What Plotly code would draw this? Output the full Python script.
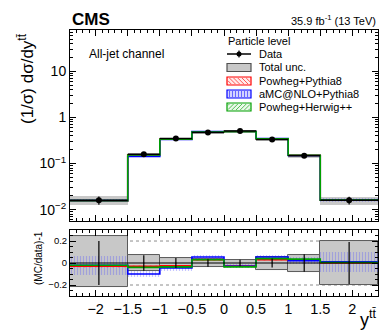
import plotly.graph_objects as go

# bins in y(ttbar)
edges = [-2.4, -1.5, -1.0, -0.5, 0.0, 0.5, 1.0, 1.5, 2.4]

# normalised cross section, particle level, all-jet channel
data = [0.0160, 0.159, 0.348, 0.471, 0.511, 0.332, 0.147, 0.0160]
stat_rel = [0.20, 0.07, 0.045, 0.035, 0.03, 0.04, 0.08, 0.19]
tot_up = [0.25, 0.075, 0.045, 0.04, 0.03, 0.055, 0.07, 0.20]
tot_dn = [0.215, 0.07, 0.045, 0.04, 0.03, 0.06, 0.08, 0.20]

# predictions (top panel)
pow_py = [0.0155, 0.154, 0.339, 0.485, 0.496, 0.342, 0.151, 0.0160]
amc_py = [0.0157, 0.143, 0.332, 0.497, 0.496, 0.350, 0.150, 0.0162]
pow_hw = [0.0157, 0.153, 0.336, 0.485, 0.493, 0.345, 0.152, 0.0161]

# (MC/data)-1 (bottom panel)
r_pow_py = [-0.03, -0.03, -0.025, 0.03, -0.03, 0.03, 0.025, 0.0]
r_amc_py = [-0.02, -0.10, -0.045, 0.055, -0.03, 0.055, 0.02, 0.01]
r_pow_hw = [-0.02, -0.04, -0.035, 0.03, -0.035, 0.04, 0.035, 0.005]

# theory uncertainty (relative)
u_pow_py = [0.012, 0.01, 0.01, 0.01, 0.01, 0.01, 0.01, 0.012]
u_amc_py = [0.085, 0.03, 0.025, 0.02, 0.02, 0.02, 0.03, 0.09]
u_pow_hw = [0.012, 0.01, 0.01, 0.01, 0.01, 0.01, 0.01, 0.012]

x_ticks = [-2, -1.5, -1, -0.5, 0, 0.5, 1, 1.5, 2]

RED = "rgb(255,0,0)"
BLUE = "rgb(0,0,255)"
GREEN = "rgb(0,160,0)"
GREY = "rgb(200,200,200)"
FONT = "Liberation Sans, Arial, sans-serif"

centers = [(a + b) / 2 for a, b in zip(edges[:-1], edges[1:])]
widths = [b - a for a, b in zip(edges[:-1], edges[1:])]
halfw = [w / 2 for w in widths]

W, H = 390, 331
ML, MR, MT, MB = 62, 20, 22, 43
PW, PH = W - ML - MR, H - MT - MB


def px(xp):
    return (xp - ML) / PW


def py(yp):
    return (H - MB - yp) / PH


fig = go.Figure()


def step(vals):
    return list(edges), list(vals) + [vals[-1]]


def band(vals, rel_up, rel_dn, axis, ratio, **kw):
    if ratio:
        lo = [v - d for v, d in zip(vals, rel_dn)]
        hi = [v + u for v, u in zip(vals, rel_up)]
    else:
        lo = [v * (1 - d) for v, d in zip(vals, rel_dn)]
        hi = [v * (1 + u) for v, u in zip(vals, rel_up)]
    fig.add_trace(go.Bar(x=centers, y=[h - l for h, l in zip(hi, lo)], base=lo, width=widths,
                         xaxis="x" if axis == 1 else "x2", yaxis="y" if axis == 1 else "y2",
                         showlegend=False, hoverinfo="skip", **kw))


hatch = {
    "red": dict(marker=dict(color="rgba(0,0,0,0)", line_width=0,
                            pattern=dict(shape="\\", fgcolor="rgba(255,0,0,0.5)", size=4, solidity=0.25))),
    "blue": dict(marker=dict(color="rgba(0,0,0,0)", line_width=0,
                             pattern=dict(shape="|", fgcolor="rgba(80,80,255,0.65)", size=3, solidity=0.4))),
    "green": dict(marker=dict(color="rgba(0,0,0,0)", line_width=0,
                              pattern=dict(shape="/", fgcolor="rgba(0,160,0,0.5)", size=4, solidity=0.25))),
}

# ---- top panel
band(data, tot_up, tot_dn, 1, False, marker=dict(color=GREY, line_width=0))
band(pow_py, u_pow_py, u_pow_py, 1, False, **hatch["red"])
band(amc_py, u_amc_py, u_amc_py, 1, False, **hatch["blue"])
band(pow_hw, u_pow_hw, u_pow_hw, 1, False, **hatch["green"])
for vals, col in [(pow_py, RED), (amc_py, BLUE), (pow_hw, GREEN)]:
    sx, sy = step(vals)
    fig.add_trace(go.Scatter(x=sx, y=sy, mode="lines", line=dict(color=col, width=1.6, shape="hv"),
                             showlegend=False, hoverinfo="skip"))
fig.add_trace(go.Scatter(x=centers, y=data, mode="markers",
                         marker=dict(color="black", size=6),
                         error_x=dict(type="data", array=halfw, color="black", thickness=1.5, width=0),
                         error_y=dict(type="data", array=[d * s for d, s in zip(data, stat_rel)],
                                      color="black", thickness=1.2, width=0),
                         showlegend=False))

# ---- ratio panel
zeros = [0.0] * len(data)
band(zeros, tot_up, tot_dn, 2, True, marker=dict(color=GREY, line=dict(color="rgb(90,90,90)", width=1)))
band(r_pow_py, u_pow_py, u_pow_py, 2, True, **hatch["red"])
band(r_amc_py, u_amc_py, u_amc_py, 2, True, **hatch["blue"])
band(r_pow_hw, u_pow_hw, u_pow_hw, 2, True, **hatch["green"])
for vals, col in [(r_pow_py, RED), (r_amc_py, BLUE), (r_pow_hw, GREEN)]:
    sx, sy = step(vals)
    fig.add_trace(go.Scatter(x=sx, y=sy, mode="lines", line=dict(color=col, width=1.6, shape="hv"),
                             xaxis="x2", yaxis="y2", showlegend=False, hoverinfo="skip"))
fig.add_trace(go.Scatter(x=centers, y=zeros, mode="markers", marker=dict(color="black", size=1),
                         error_x=dict(type="data", array=halfw, color="black", thickness=1.2, width=0),
                         error_y=dict(type="data", array=stat_rel, color="black", thickness=1.2, width=0),
                         xaxis="x2", yaxis="y2", showlegend=False))

# dotted reference lines
shapes = []
for yv in [0.2, -0.2]:
    shapes.append(dict(type="line", xref="x2 domain", yref="y2", x0=0, x1=1, y0=yv, y1=yv,
                       line=dict(color="rgb(140,140,140)", width=1, dash="dot"), layer="below"))

# ---- legend (drawn by hand)
def hatch_lines(x0, y0, x1, y1, kind, color, sp=3.0):
    out = []
    if kind == "|":
        xv = x0 + 1.5
        while xv < x1:
            out.append((xv, y0, xv, y1))
            xv += sp
    else:
        c = -(y1 - y0) - (x1 - x0)
        while c < (x1 - x0) + (y1 - y0):
            w, h = x1 - x0, y1 - y0
            if kind == "\\":
                ua, ub = max(0, c), min(w, h + c)
                if ua < ub:
                    out.append((x0 + ua, y0 + ua - c, x0 + ub, y0 + ub - c))
            else:
                ua, ub = max(0, c - h), min(w, c)
                if ua < ub:
                    out.append((x0 + ua, y0 + c - ua, x0 + ub, y0 + c - ub))
            c += sp * 1.4
    return [dict(type="line", xref="paper", yref="paper", x0=px(a), y0=py(b), x1=px(cc), y1=py(d),
                 line=dict(color=color, width=0.8)) for a, b, cc, d in out]


LX0, LX1, TX = 219, 243, 249
leg_rows = [46, 59.5, 73, 86, 99]
leg_text = ["Data", "Total unc.", "Powheg+Pythia8", "aMC@NLO+Pythia8", "Powheg+Herwig++"]

# data entry
shapes.append(dict(type="line", xref="paper", yref="paper", x0=px(LX0), x1=px(LX1),
                   y0=py(leg_rows[0]), y1=py(leg_rows[0]), line=dict(color="black", width=1.5)))
shapes.append(dict(type="line", xref="paper", yref="paper", x0=px(231), x1=px(231),
                   y0=py(leg_rows[0] - 3.5), y1=py(leg_rows[0] + 3.5), line=dict(color="black", width=1.2)))
shapes.append(dict(type="circle", xref="paper", yref="paper", x0=px(228.5), x1=px(233.5),
                   y0=py(leg_rows[0] - 2.5), y1=py(leg_rows[0] + 2.5), fillcolor="black",
                   line=dict(color="black", width=0)))
# boxes
box_style = [(GREY, "rgb(80,80,80)", None, None),
             ("rgba(255,0,0,0.08)", RED, "\\", "rgba(255,0,0,0.8)"),
             ("rgba(80,80,255,0.25)", BLUE, "|", "rgba(40,40,255,0.8)"),
             ("rgba(0,160,0,0.08)", GREEN, "/", "rgba(0,160,0,0.8)")]
for yc, (fill, edge, kind, hcol) in zip(leg_rows[1:], box_style):
    y0, y1 = yc - 4, yc + 4
    shapes.append(dict(type="rect", xref="paper", yref="paper", x0=px(LX0), x1=px(LX1),
                       y0=py(y1), y1=py(y0), fillcolor=fill, line=dict(color=edge, width=1.2)))
    if kind:
        shapes += hatch_lines(LX0 + 1, y0 + 1, LX1 - 1, y1 - 1, kind, hcol)

ann = []
ann.append(dict(text="Particle level", x=px(218), y=py(32.5), xanchor="left", yanchor="middle"))
for yc, t in zip(leg_rows, leg_text):
    ann.append(dict(text=t, x=px(TX), y=py(yc), xanchor="left", yanchor="middle"))
for a in ann:
    a.update(xref="paper", yref="paper", showarrow=False, font=dict(size=11, family=FONT, color="black"))

ann += [
    dict(text="<b>CMS</b>", x=0, y=py(11), xanchor="left", yanchor="middle",
         font=dict(size=17, family=FONT, color="black")),
    dict(text="35.9 fb<sup>-1</sup> (13 TeV)", x=1, y=py(12), xanchor="right", yanchor="middle",
         font=dict(size=11, family=FONT, color="black")),
    dict(text="All-jet channel", x=px(79), y=py(46), xanchor="left", yanchor="middle",
         font=dict(size=12, family=FONT, color="black")),
    dict(text="(1/σ) dσ/dy<sup>tt\u0304</sup>", x=px(18), y=py(71), textangle=-90,
         xanchor="center", yanchor="middle", font=dict(size=17, family=FONT, color="black")),
    dict(text="(MC/data)-1", x=px(30), y=py(250), textangle=-90,
         xanchor="center", yanchor="middle", font=dict(size=10, family=FONT, color="black")),
    dict(text="y<sup>tt\u0304</sup>", x=1, y=py(310), xanchor="right", yanchor="middle",
         font=dict(size=18, family=FONT, color="black")),
]
for a in ann[-6:]:
    a.update(xref="paper", yref="paper", showarrow=False)

axis_common = dict(showline=True, linecolor="black", linewidth=1, mirror="allticks",
                   ticks="inside", tickcolor="black", ticklen=6, showgrid=False, zeroline=False)

fig.update_layout(
    width=W, height=H, margin=dict(l=ML, r=MR, t=MT, b=MB),
    paper_bgcolor="white", plot_bgcolor="white", barmode="overlay", bargap=0,
    showlegend=False, font=dict(family=FONT, color="black"),
    xaxis=dict(domain=[0, 1], range=[-2.4, 2.4], anchor="y", tickvals=x_ticks, showticklabels=False,
               minor=dict(ticks="inside", dtick=0.1, ticklen=3, tickcolor="black"), **axis_common),
    yaxis=dict(domain=[0.282, 1], type="log", range=[-2.245, 1.896], anchor="x",
               tickvals=[0.01, 0.1, 1, 10], ticktext=["10<sup>−2</sup>", "10<sup>−1</sup>", "1", "10"],
               tickfont=dict(size=14),
               minor=dict(ticks="inside", ticklen=3, tickcolor="black",
                          tickvals=[m * 10 ** e for e in [-3, -2, -1, 0, 1] for m in range(2, 10)]),
               **axis_common),
    xaxis2=dict(domain=[0, 1], range=[-2.4, 2.4], anchor="y2", tickvals=x_ticks,
                tickfont=dict(size=14.5),
                minor=dict(ticks="inside", dtick=0.1, ticklen=3, tickcolor="black"), **axis_common),
    yaxis2=dict(domain=[0, 0.248], range=[-0.3, 0.3], anchor="x2", tickvals=[-0.2, 0, 0.2],
                ticktext=["−0.2", "0", "0.2"], tickfont=dict(size=9.5),
                minor=dict(ticks="inside", dtick=0.05, ticklen=3, tickcolor="black"), **axis_common),
    shapes=shapes, annotations=ann,
)

fig.write_html("out.html")
